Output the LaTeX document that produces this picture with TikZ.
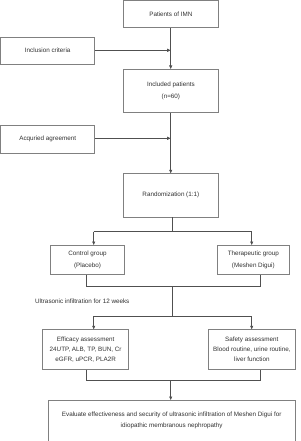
\documentclass[tikz,border=0pt]{standalone}
\usepackage{fontspec}
\setmainfont{Liberation Sans}
\usetikzlibrary{arrows.meta}
\definecolor{boxc}{HTML}{808080}
\definecolor{linec}{HTML}{505050}
\definecolor{txtc}{HTML}{303030}
\begin{document}
\begin{tikzpicture}[x=1pt,y=-1pt,
  bx/.style={draw=boxc,line width=0.7pt,inner sep=0pt,anchor=north west,text=txtc,font=\fontsize{6.3}{10}\selectfont,align=center},
  two/.style={font=\fontsize{6.3}{11.5}\selectfont},
  ln/.style={draw=linec,line width=0.6pt},
  ar/.style={ln,-{Triangle[length=3.5pt,width=3pt]}}]
\useasboundingbox (0,0) rectangle (300,441);
\node[bx,minimum width=94.4pt,minimum height=27pt] (imn) at (123.3,0.4) {Patients of IMN};
\node[bx,minimum width=94pt,minimum height=27.3pt] (inc) at (0.4,36.7) {Inclusion criteria};
\node[bx,two,minimum width=94.4pt,minimum height=43.3pt] (incp) at (123.3,69) {Included patients\\(n=60)};
\node[bx,minimum width=94pt,minimum height=27.3pt] (agr) at (0.4,125.3) {Acquried agreement};
\node[bx,minimum width=94.4pt,minimum height=43.4pt] (rand) at (123.3,173.3) {Randomization (1:1)};
\node[bx,two,minimum width=74.3pt,minimum height=29pt] (ctrl) at (50,245) {Control group\\(Placebo)};
\node[bx,two,minimum width=72.6pt,minimum height=29pt] (ther) at (216.7,245) {Therapeutic group\\(Meshen Digui)};
\node[text=txtc,font=\fontsize{6.3}{10}\selectfont,anchor=west,inner sep=0pt] (ult) at (35,301.7) {Ultrasonic infiltration for 12 weeks};
\node[bx,minimum width=86pt,minimum height=39.7pt] (eff) at (42.3,329.3) {Efficacy assessment\\24UTP, ALB, TP, BUN, Cr\\eGFR, uPCR, PLA2R};
\node[bx,minimum width=87pt,minimum height=39.7pt] (saf) at (208,329.3) {Safety assessment\\Blood routine, urine routine,\\liver function};
\node[bx,font=\fontsize{6.3}{11}\selectfont,minimum width=247.3pt,minimum height=40.5pt] (fin) at (47.7,400) {Evaluate effectiveness and security of ultrasonic infiltration of Meshen Digui for\\idiopathic membranous nephropathy};
% coordinates
\coordinate (m1) at (170.7,50.3);
\coordinate (m2) at (170.7,138.3);
\draw[ar] (imn.south -| m1) -- (incp.north -| m1);
\draw[ar] (inc.east |- m1) -- (m1);
\draw[ar] (incp.south -| m2) -- (rand.north -| m2);
\draw[ar] (agr.east |- m2) -- (m2);
\coordinate (s1) at (172.3,231.7);
\coordinate (s1l) at (93.7,231.7);
\coordinate (s1r) at (251.7,231.7);
\draw[ln] (rand.south -| s1) -- (s1);
\draw[ln] (s1l) -- (s1r);
\draw[ar] (s1l) -- (s1l |- ctrl.north);
\draw[ar] (s1r) -- (s1r |- ther.north);
\coordinate (j1l) at (86.7,286.7);
\coordinate (j1r) at (260,286.7);
\coordinate (j1c) at (172.3,286.7);
\draw[ln] (j1l |- ctrl.south) -- (j1l) -- (j1r) -- (j1r |- ther.south);
\coordinate (s2) at (172.3,316);
\coordinate (s2l) at (93.7,316);
\coordinate (s2r) at (251.7,316);
\draw[ln] (j1c) -- (s2);
\draw[ln] (s2l) -- (s2r);
\draw[ar] (s2l) -- (s2l |- eff.north);
\draw[ar] (s2r) -- (s2r |- saf.north);
\coordinate (j2l) at (86.7,380);
\coordinate (j2r) at (260.7,380);
\coordinate (j2c) at (170.7,380);
\draw[ln] (j2l |- eff.south) -- (j2l) -- (j2r) -- (j2r |- saf.south);
\draw[ar] (j2c) -- (j2c |- fin.north);
\end{tikzpicture}
\end{document}
